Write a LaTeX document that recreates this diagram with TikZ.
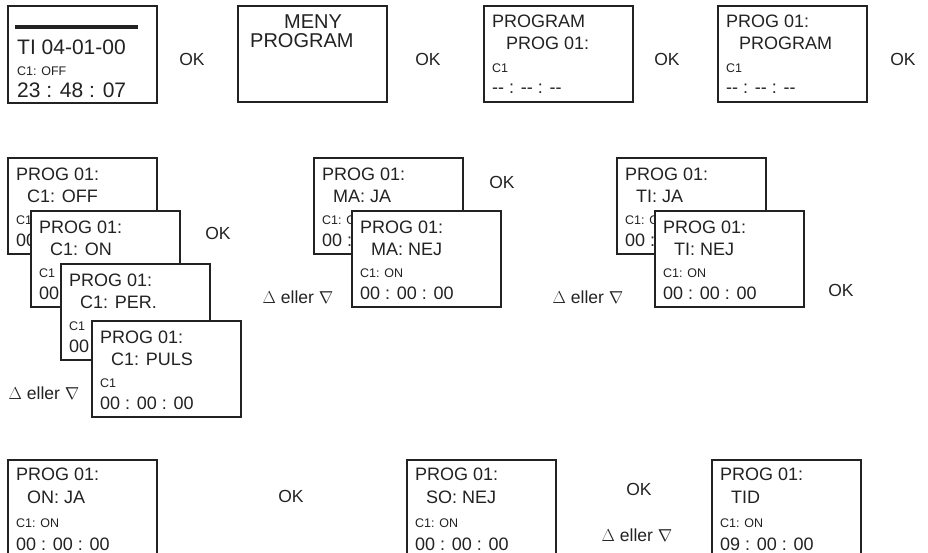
\documentclass[tikz,border=0pt]{standalone}
\usepackage{fontspec}
\setmainfont{Liberation Sans}
\usetikzlibrary{calc}
\definecolor{ink}{HTML}{222222}
\tikzset{
  lcd/.style={draw=ink, line width=2pt, fill=white, rectangle, minimum width=149pt,
    minimum height=96pt, inner sep=0pt, outer sep=0pt, anchor=north west},
  bigtxt/.style={font=\fontsize{18}{18}\selectfont, text=ink, inner sep=0pt, anchor=base west},
  hugetxt/.style={font=\fontsize{21}{21}\selectfont, text=ink, inner sep=0pt, anchor=base west},
  smalltxt/.style={font=\fontsize{12.5}{12.5}\selectfont, text=ink, inner sep=0pt, anchor=base west},
  lbl/.style={font=\fontsize{17.5}{17.5}\selectfont, text=ink, inner sep=0pt, anchor=center},
}
% box with four lines (middle-row offsets)
\newcommand{\lcdbox}[7]{%
  \node[lcd] (#1) at (#2,#3) {};
  \node[bigtxt] (#1-a) at ($(#1.north west)+(8,22)$) {#4};
  \node[bigtxt] (#1-b) at ($(#1.north west)+(19,44)$) {#5};
  \node[smalltxt] (#1-c) at ($(#1.north west)+(8,66)$) {#6};
  \node[bigtxt] (#1-d) at ($(#1.north west)+(8,88)$) {#7};
}
% box with four lines (bottom-row offsets)
\newcommand{\lcdboxlow}[7]{%
  \node[lcd] (#1) at (#2,#3) {};
  \node[bigtxt] (#1-a) at ($(#1.north west)+(8,20)$) {#4};
  \node[bigtxt] (#1-b) at ($(#1.north west)+(19,43)$) {#5};
  \node[smalltxt] (#1-c) at ($(#1.north west)+(8,67)$) {#6};
  \node[bigtxt] (#1-d) at ($(#1.north west)+(8,90)$) {#7};
}
\newcommand{\dashtime}{-{}- : -{}- : -{}-}
\newcommand{\eller}{$\Delta$ eller $\nabla$}
\begin{document}
\begin{tikzpicture}[x=1pt, y=-1pt]
\useasboundingbox (0,0) rectangle (928,552);
\clip (0,0) rectangle (928,552);
% ---------- top row ----------
\node[lcd, minimum height=97pt] (t1) at (8,6) {};
\fill[ink] (15,25) rectangle (138,29);
\node[hugetxt] (t1-a) at (17,54) {TI 04-01-00};
\node[smalltxt] (t1-b) at (17,75) {C1: OFF};
\node[hugetxt] (t1-c) at (17,97) {23 : 48 : 07};

\node[lcd] (t2) at (238,6) {};
\node[font=\fontsize{20}{20}\selectfont, text=ink, inner sep=0pt, anchor=base] (t2-a) at (313,28) {MENY};
\node[font=\fontsize{20}{20}\selectfont, text=ink, inner sep=0pt, anchor=base west] (t2-b) at (250,47) {PROGRAM};

\node[lcd] (t3) at (484,6) {};
\node[bigtxt] (t3-a) at (492,27) {PROGRAM};
\node[bigtxt] (t3-b) at (506,49) {PROG 01:};
\node[smalltxt] (t3-c) at (492,72) {C1};
\node[bigtxt] (t3-d) at (492,93) {\dashtime};

\node[lcd] (t4) at (718,6) {};
\node[bigtxt] (t4-a) at (726,27) {PROG 01:};
\node[bigtxt] (t4-b) at (739,49) {PROGRAM};
\node[smalltxt] (t4-c) at (726,72) {C1};
\node[bigtxt] (t4-d) at (726,93) {\dashtime};

\node[lbl] (ok1) at (192,59) {OK};
\node[lbl] (ok2) at (428,59) {OK};
\node[lbl] (ok3) at (667,59) {OK};
\node[lbl] (ok4) at (903,59) {OK};

% ---------- middle row ----------
% (text of a box that a later box hides is given only as far as it shows)
\lcdbox{a}{8}{158}{PROG 01:}{C1: OFF}{C1}{00}
\lcdbox{b}{31}{211}{PROG 01:}{C1: ON}{C1}{00}
\lcdbox{c}{61}{264}{PROG 01:}{C1: PER.}{C1}{00}
\lcdbox{d}{92}{321}{PROG 01:}{C1: PULS}{C1}{00 : 00 : 00}
\node[lbl] (ok5) at (218,233) {OK};
\node[lbl] (el1) at (44,393) {\eller};

\lcdbox{e}{314}{158}{PROG 01:}{MA: JA}{C1: O}{00 :}
\lcdbox{f}{352}{211}{PROG 01:}{MA: NEJ}{C1: ON}{00 : 00 : 00}
\node[lbl] (ok6) at (502,182) {OK};
\node[lbl] (el2) at (298,297) {\eller};

\lcdbox{g}{617}{158}{PROG 01:}{TI: JA}{C1: O}{00 :}
\lcdbox{h}{655}{211}{PROG 01:}{TI: NEJ}{C1: ON}{00 : 00 : 00}
\node[lbl] (ok7) at (841,290) {OK};
\node[lbl] (el3) at (588,297) {\eller};

% ---------- bottom row ----------
\lcdboxlow{i}{8}{460}{PROG 01:}{ON: JA}{C1: ON}{00 : 00 : 00}
\node[lbl] (ok8) at (291,496) {OK};
\lcdboxlow{j}{407}{460}{PROG 01:}{SO: NEJ}{C1: ON}{00 : 00 : 00}
\node[lbl] (ok9) at (639,489) {OK};
\node[lbl] (el4) at (637,535) {\eller};
\lcdboxlow{k}{712}{460}{PROG 01:}{TID}{C1: ON}{09 : 00 : 00}
\end{tikzpicture}
\end{document}
